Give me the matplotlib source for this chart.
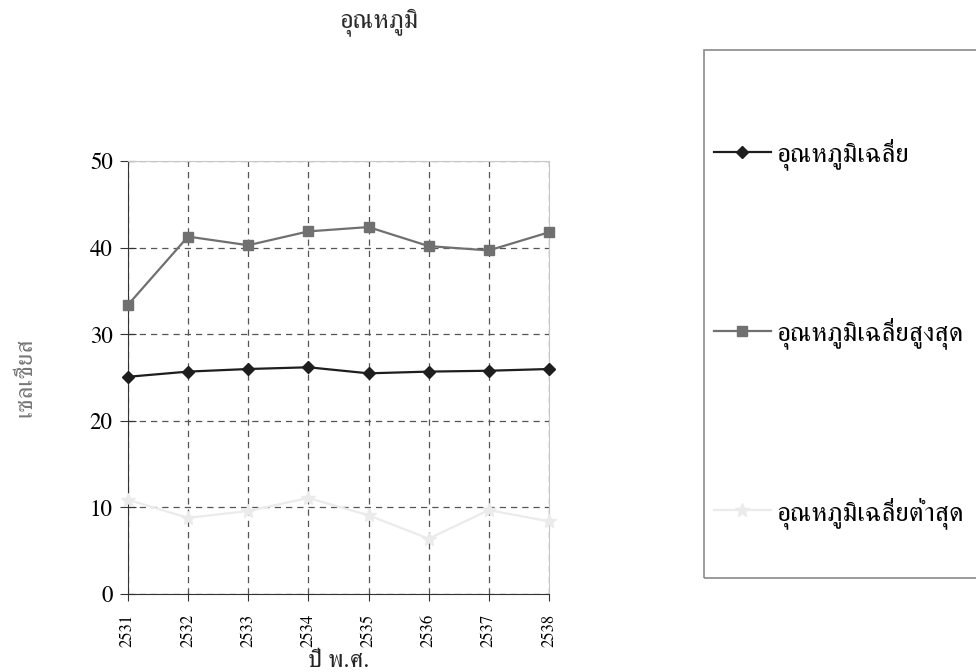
import matplotlib
matplotlib.use("Agg")
import matplotlib.pyplot as plt
from matplotlib.patches import Rectangle

years = ["2531", "2532", "2533", "2534", "2535", "2536", "2537", "2538"]
mean_temp = [25.1, 25.7, 26.0, 26.2, 25.5, 25.7, 25.8, 26.0]
max_temp = [33.4, 41.3, 40.3, 41.9, 42.4, 40.2, 39.7, 41.8]
min_temp = [10.9, 8.8, 9.6, 11.1, 9.1, 6.4, 9.7, 8.4]
labels = ["อุณหภูมิเฉลี่ย", "อุณหภูมิเฉลี่ยสูงสุด", "อุณหภูมิเฉลี่ยต่ำสุด"]

plt.rcParams["font.family"] = ["FreeSerif", "DejaVu Sans"]

fig = plt.figure(figsize=(9.76, 6.72), dpi=100)
ax = fig.add_axes([0.131, 0.116, 0.4315, 0.644])

x = range(len(years))
ax.plot(x, mean_temp, color="#1e1e1e", marker="D", markersize=6.5, lw=1.6,
        label=labels[0], clip_on=False, zorder=3)
ax.plot(x, max_temp, color="#707070", marker="s", markersize=7.5, lw=1.6,
        label=labels[1], clip_on=False, zorder=3)
ax.plot(x, min_temp, color="#ebebeb", marker="*", markersize=10, lw=1.6,
        label=labels[2], clip_on=False, zorder=3)

ax.set_xlim(0, len(years) - 1)
ax.set_ylim(0, 50)
ax.set_yticks([0, 10, 20, 30, 40, 50])
ax.set_xticks(list(x))
ax.set_xticklabels(years, rotation=90, fontsize=12)
for t in ax.get_yticklabels():
    t.set_fontsize(16.5)
ax.grid(True, ls=(0, (5, 4)), color="#555555", lw=0.9)
ax.spines["top"].set_color("#c8c8c8")
ax.spines["right"].set_color("#c8c8c8")
ax.spines["left"].set_color("#333333")
ax.spines["bottom"].set_color("#333333")
ax.tick_params(axis="y", direction="inout", length=12, pad=5, color="#333333")
ax.tick_params(axis="x", direction="out", length=5, pad=9, color="#333333")

ax.set_xlabel("ปี พ.ศ.", fontsize=18, color="#222222")
ax.xaxis.set_label_coords(0.5, -0.128)
ax.set_ylabel("เซลเซียส", fontsize=18, labelpad=38, color="#777777")
fig.text(0.388, 0.967, "อุณหภูมิ", ha="center", va="center", fontsize=19, color="#2a2a2a")

# legend box
fig.patches.append(Rectangle((704 / 976, 1 - 578 / 672), 0.3, (578 - 50) / 672,
                             transform=fig.transFigure, fill=False,
                             edgecolor="#8a8a8a", lw=1.2))
leg = fig.legend(loc="upper left", bbox_to_anchor=(714 / 976, 1 - 138 / 672),
                 fontsize=19.5, frameon=False, labelspacing=5.45, borderpad=0,
                 borderaxespad=0, handlelength=2.1, handletextpad=0.22)

fig.savefig("out.png", dpi=100)
